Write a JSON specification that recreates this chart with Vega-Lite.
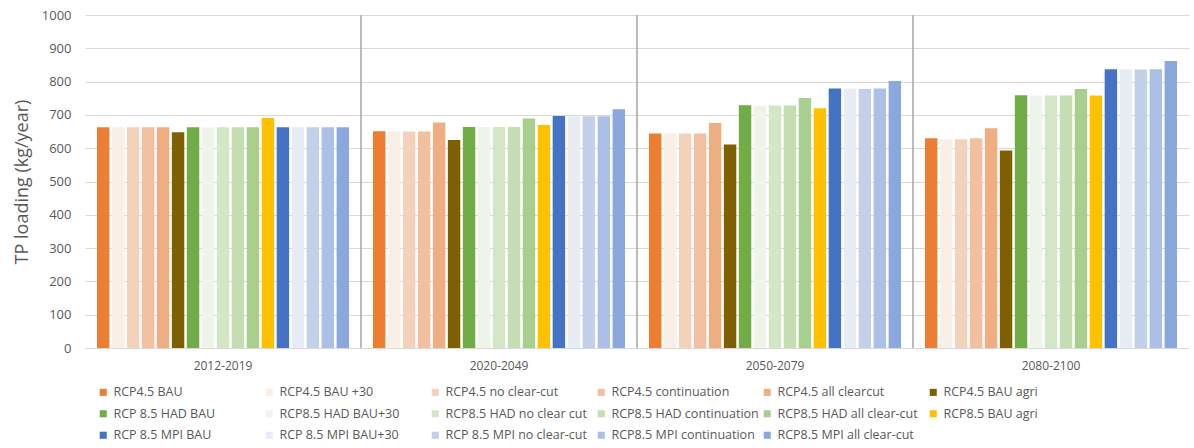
{
  "$schema": "https://vega.github.io/schema/vega-lite/v6.json",
  "width": 1104,
  "height": 333,
  "autosize": {"type": "none"},
  "padding": {"left": 85, "top": 15, "right": 5, "bottom": 100},
  "background": "white",
  "config": {
    "font": "Open Sans",
    "view": {"stroke": null},
    "axis": {"labelColor": "#595959", "titleColor": "#595959", "labelFont": "Open Sans", "titleFont": "Open Sans"}
  },
  "datasets": {
    "tp": [
      {"period": "2012-2019", "scenario": "RCP4.5 BAU", "value": 663},
      {"period": "2012-2019", "scenario": "RCP4.5 BAU +30", "value": 663},
      {"period": "2012-2019", "scenario": "RCP4.5 no clear-cut", "value": 663},
      {"period": "2012-2019", "scenario": "RCP4.5 continuation", "value": 663},
      {"period": "2012-2019", "scenario": "RCP4.5 all clearcut", "value": 663},
      {"period": "2012-2019", "scenario": "RCP4.5 BAU agri", "value": 648},
      {"period": "2012-2019", "scenario": "RCP 8.5 HAD BAU", "value": 663},
      {"period": "2012-2019", "scenario": "RCP8.5 HAD BAU+30", "value": 663},
      {"period": "2012-2019", "scenario": "RCP8.5 HAD no clear cut", "value": 663},
      {"period": "2012-2019", "scenario": "RCP8.5 HAD continuation", "value": 663},
      {"period": "2012-2019", "scenario": "RCP8.5 HAD all clear-cut", "value": 663},
      {"period": "2012-2019", "scenario": "RCP8.5 BAU agri", "value": 691},
      {"period": "2012-2019", "scenario": "RCP 8.5 MPI BAU", "value": 663},
      {"period": "2012-2019", "scenario": "RCP 8.5 MPI BAU+30", "value": 663},
      {"period": "2012-2019", "scenario": "RCP 8.5 MPI no clear-cut", "value": 663},
      {"period": "2012-2019", "scenario": "RCP8.5 MPI continuation", "value": 663},
      {"period": "2012-2019", "scenario": "RCP8.5 MPI all clear-cut", "value": 663},

      {"period": "2020-2049", "scenario": "RCP4.5 BAU", "value": 651},
      {"period": "2020-2049", "scenario": "RCP4.5 BAU +30", "value": 651},
      {"period": "2020-2049", "scenario": "RCP4.5 no clear-cut", "value": 650},
      {"period": "2020-2049", "scenario": "RCP4.5 continuation", "value": 650},
      {"period": "2020-2049", "scenario": "RCP4.5 all clearcut", "value": 677},
      {"period": "2020-2049", "scenario": "RCP4.5 BAU agri", "value": 625},
      {"period": "2020-2049", "scenario": "RCP 8.5 HAD BAU", "value": 664},
      {"period": "2020-2049", "scenario": "RCP8.5 HAD BAU+30", "value": 664},
      {"period": "2020-2049", "scenario": "RCP8.5 HAD no clear cut", "value": 664},
      {"period": "2020-2049", "scenario": "RCP8.5 HAD continuation", "value": 664},
      {"period": "2020-2049", "scenario": "RCP8.5 HAD all clear-cut", "value": 689},
      {"period": "2020-2049", "scenario": "RCP8.5 BAU agri", "value": 670},
      {"period": "2020-2049", "scenario": "RCP 8.5 MPI BAU", "value": 697},
      {"period": "2020-2049", "scenario": "RCP 8.5 MPI BAU+30", "value": 696},
      {"period": "2020-2049", "scenario": "RCP 8.5 MPI no clear-cut", "value": 696},
      {"period": "2020-2049", "scenario": "RCP8.5 MPI continuation", "value": 696},
      {"period": "2020-2049", "scenario": "RCP8.5 MPI all clear-cut", "value": 717},

      {"period": "2050-2079", "scenario": "RCP4.5 BAU", "value": 644},
      {"period": "2050-2079", "scenario": "RCP4.5 BAU +30", "value": 644},
      {"period": "2050-2079", "scenario": "RCP4.5 no clear-cut", "value": 644},
      {"period": "2050-2079", "scenario": "RCP4.5 continuation", "value": 644},
      {"period": "2050-2079", "scenario": "RCP4.5 all clearcut", "value": 676},
      {"period": "2050-2079", "scenario": "RCP4.5 BAU agri", "value": 611},
      {"period": "2050-2079", "scenario": "RCP 8.5 HAD BAU", "value": 729},
      {"period": "2050-2079", "scenario": "RCP8.5 HAD BAU+30", "value": 728},
      {"period": "2050-2079", "scenario": "RCP8.5 HAD no clear cut", "value": 728},
      {"period": "2050-2079", "scenario": "RCP8.5 HAD continuation", "value": 728},
      {"period": "2050-2079", "scenario": "RCP8.5 HAD all clear-cut", "value": 751},
      {"period": "2050-2079", "scenario": "RCP8.5 BAU agri", "value": 720},
      {"period": "2050-2079", "scenario": "RCP 8.5 MPI BAU", "value": 779},
      {"period": "2050-2079", "scenario": "RCP 8.5 MPI BAU+30", "value": 779},
      {"period": "2050-2079", "scenario": "RCP 8.5 MPI no clear-cut", "value": 778},
      {"period": "2050-2079", "scenario": "RCP8.5 MPI continuation", "value": 779},
      {"period": "2050-2079", "scenario": "RCP8.5 MPI all clear-cut", "value": 802},

      {"period": "2080-2100", "scenario": "RCP4.5 BAU", "value": 630},
      {"period": "2080-2100", "scenario": "RCP4.5 BAU +30", "value": 627},
      {"period": "2080-2100", "scenario": "RCP4.5 no clear-cut", "value": 627},
      {"period": "2080-2100", "scenario": "RCP4.5 continuation", "value": 630},
      {"period": "2080-2100", "scenario": "RCP4.5 all clearcut", "value": 660},
      {"period": "2080-2100", "scenario": "RCP4.5 BAU agri", "value": 593},
      {"period": "2080-2100", "scenario": "RCP 8.5 HAD BAU", "value": 759},
      {"period": "2080-2100", "scenario": "RCP8.5 HAD BAU+30", "value": 758},
      {"period": "2080-2100", "scenario": "RCP8.5 HAD no clear cut", "value": 758},
      {"period": "2080-2100", "scenario": "RCP8.5 HAD continuation", "value": 758},
      {"period": "2080-2100", "scenario": "RCP8.5 HAD all clear-cut", "value": 778},
      {"period": "2080-2100", "scenario": "RCP8.5 BAU agri", "value": 758},
      {"period": "2080-2100", "scenario": "RCP 8.5 MPI BAU", "value": 837},
      {"period": "2080-2100", "scenario": "RCP 8.5 MPI BAU+30", "value": 837},
      {"period": "2080-2100", "scenario": "RCP 8.5 MPI no clear-cut", "value": 836},
      {"period": "2080-2100", "scenario": "RCP8.5 MPI continuation", "value": 837},
      {"period": "2080-2100", "scenario": "RCP8.5 MPI all clear-cut", "value": 862}
    ],
    "separators": [
      {"period": "2020-2049"},
      {"period": "2050-2079"},
      {"period": "2080-2100"}
    ]
  },
  "layer": [
    {
      "data": {"name": "tp"},
      "mark": {"type": "bar"},
      "encoding": {
        "x": {
          "field": "period", "type": "nominal", "sort": null,
          "scale": {"paddingInner": 0, "paddingOuter": 0},
          "axis": {"title": null, "labelAngle": 0, "labelFontSize": 12, "labelPadding": 12, "ticks": false, "domain": false, "grid": false}
        },
        "xOffset": {
          "field": "scenario", "type": "nominal", "sort": null,
          "scale": {"paddingInner": 0.17, "paddingOuter": 0.8}
        },
        "y": {
          "field": "value", "type": "quantitative",
          "scale": {"domain": [0, 1000], "nice": false},
          "axis": {
            "title": "TP loading (kg/year)", "titleFontSize": 18, "titleFontWeight": "normal", "titlePadding": 10,
            "values": [0, 100, 200, 300, 400, 500, 600, 700, 800, 900, 1000], "format": "d",
            "labelFontSize": 13, "labelPadding": 14, "ticks": false, "domain": false,
            "gridColor": "#d9d9d9", "gridWidth": 1
          }
        },
        "color": {
          "field": "scenario", "type": "nominal", "sort": null,
          "scale": {
            "domain": [
              "RCP4.5 BAU", "RCP4.5 BAU +30", "RCP4.5 no clear-cut", "RCP4.5 continuation", "RCP4.5 all clearcut", "RCP4.5 BAU agri",
              "RCP 8.5 HAD BAU", "RCP8.5 HAD BAU+30", "RCP8.5 HAD no clear cut", "RCP8.5 HAD continuation", "RCP8.5 HAD all clear-cut", "RCP8.5 BAU agri",
              "RCP 8.5 MPI BAU", "RCP 8.5 MPI BAU+30", "RCP 8.5 MPI no clear-cut", "RCP8.5 MPI continuation", "RCP8.5 MPI all clear-cut"
            ],
            "range": [
              "#ED7D31", "#FAEFE6", "#F3D2BB", "#F2C0A0", "#EFAE82", "#7F6000",
              "#70AD47", "#EEF4EA", "#D3E6C6", "#C4DDB2", "#A8CF8E", "#FFC000",
              "#4472C4", "#E7ECF5", "#C3D0EA", "#ABC0E6", "#8AA8DE"
            ]
          },
          "legend": {
            "title": null,
            "orient": "none",
            "legendX": 12,
            "legendY": 371,
            "direction": "horizontal",
            "columns": 6,
            "gridAlign": "all",
            "symbolType": "square",
            "symbolSize": 50,
            "symbolStrokeWidth": 0,
            "labelFontSize": 12.5,
            "labelColor": "#595959",
            "labelLimit": 200,
            "columnPadding": 2,
            "rowPadding": 8.5
          }
        }
      }
    },
    {
      "data": {"name": "separators"},
      "mark": {"type": "rule", "color": "#a6a6a6", "strokeWidth": 1.5},
      "encoding": {
        "x": {"field": "period", "type": "nominal", "bandPosition": 0}
      }
    }
  ]
}
